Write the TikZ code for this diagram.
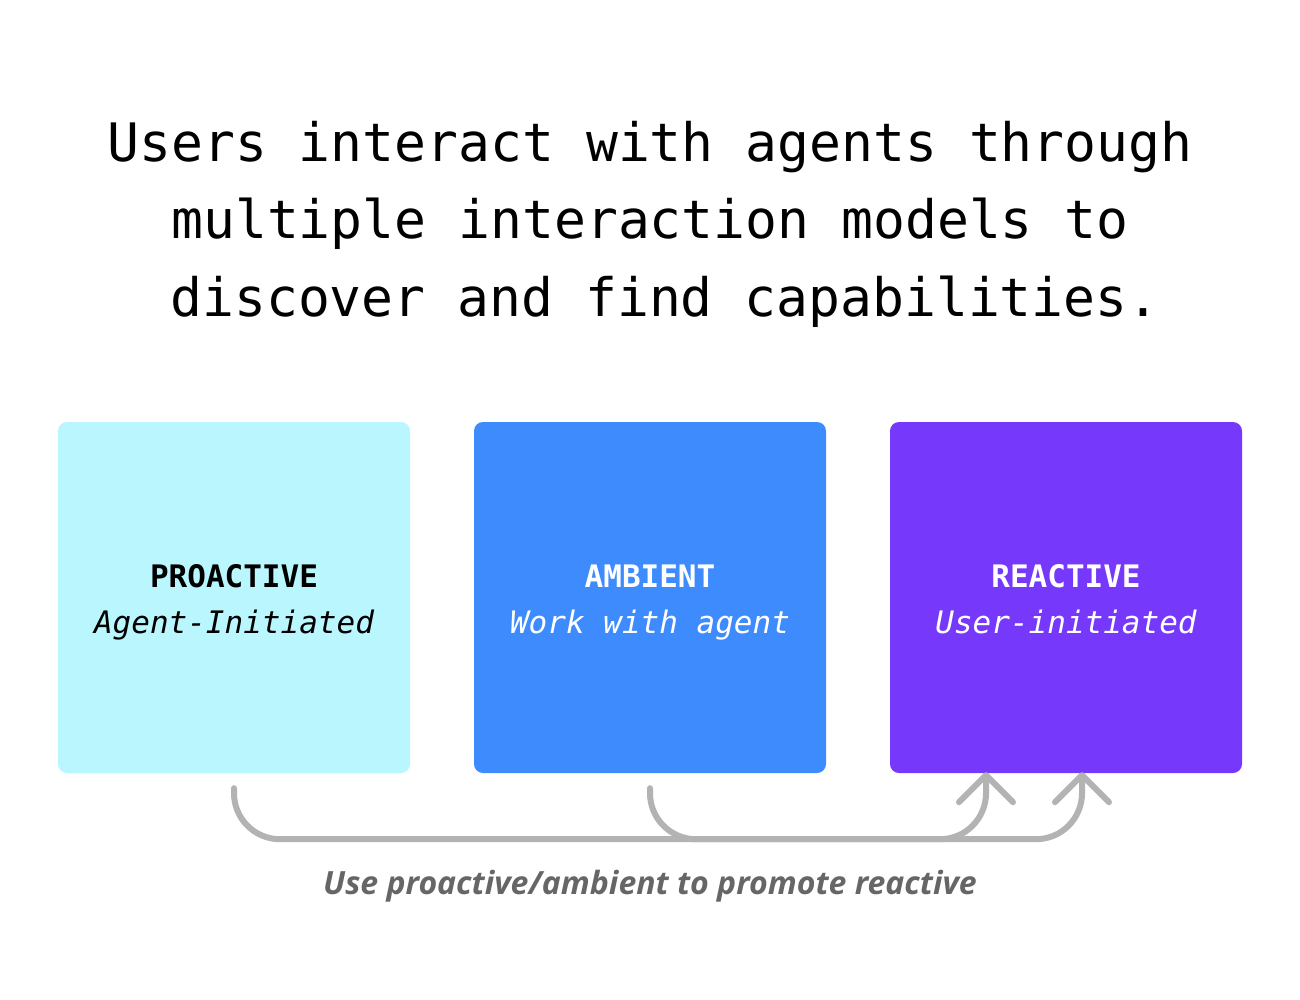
\documentclass[tikz,border=0pt]{standalone}
\usepackage{fontspec}
\usetikzlibrary{arrows.meta}
\newfontfamily\titlefont{DejaVu Sans Mono}
\newfontfamily\boxfont{DejaVu Sans Mono}
\newfontfamily\capfont{Open Sans}
\definecolor{cyanbox}{HTML}{B9F6FE}
\definecolor{bluebox}{HTML}{3D8BFD}
\definecolor{purplebox}{HTML}{7638FA}
\definecolor{conngray}{HTML}{B3B3B3}
\definecolor{capgray}{HTML}{666666}
\tikzset{
  titleline/.style={anchor=base, inner sep=0pt, font=\titlefont\fontsize{53}{60}\selectfont},
  card/.style={minimum width=352pt, minimum height=351pt, rounded corners=9pt, inner sep=0pt},
  cardhead/.style={anchor=base, inner sep=0pt, font=\boxfont\bfseries\fontsize{31}{36}\selectfont},
  cardsub/.style={anchor=base, inner sep=0pt, font=\boxfont\itshape\fontsize{31}{36}\selectfont},
  conn/.style={draw=conngray, line width=6pt, line cap=round, line join=round, rounded corners=46pt},
  tipconn/.style={conn, -{Straight Barb[length=27pt 0 0, width=54pt 0 0, round]}},
  caption/.style={anchor=base, inner sep=0pt, text=capgray, font=\capfont\bfseries\itshape\fontsize{32}{38}\selectfont}
}
\begin{document}
\begin{tikzpicture}[x=1pt, y=-1pt]
\useasboundingbox (0,0) rectangle (1300,1000);
\fill[white] (0,0) rectangle (1300,1000);

\node[titleline] (t1) at (650,162) {Users interact with agents through};
\node[titleline] (t2) at (650,239) {multiple interaction models to};
\node[titleline] (t3) at (665,316) {discover and find capabilities.};

\node[card, fill=cyanbox] (p) at (234,597.5) {};
\node[card, fill=bluebox] (a) at (650,597.5) {};
\node[card, fill=purplebox] (r) at (1066,597.5) {};

\node[cardhead] (ph) at (234,587) {PROACTIVE};
\node[cardsub] (ps) at (234,633) {Agent-Initiated};
\node[cardhead, text=white] (ah) at (650,587) {AMBIENT};
\node[cardsub, text=white] (as) at (650,633) {Work with agent};
\node[cardhead, text=white] (rh) at (1066,587) {REACTIVE};
\node[cardsub, text=white] (rs) at (1066,633) {User-initiated};

\coordinate (ps0) at ([yshift=-15pt]p.south);
\coordinate (as0) at ([yshift=-15pt]a.south);
\coordinate (rt1) at ([xshift=-80pt, yshift=1pt]r.south);
\coordinate (rt2) at ([xshift=16pt, yshift=1pt]r.south);

\draw[tipconn] (ps0) |- ([yshift=-67pt]rt1) -- (rt1);
\draw[tipconn] (as0) |- ([yshift=-67pt]rt2) -- (rt2);

\node[caption] (c) at (650,894) {Use proactive/ambient to promote reactive};
\end{tikzpicture}
\end{document}
